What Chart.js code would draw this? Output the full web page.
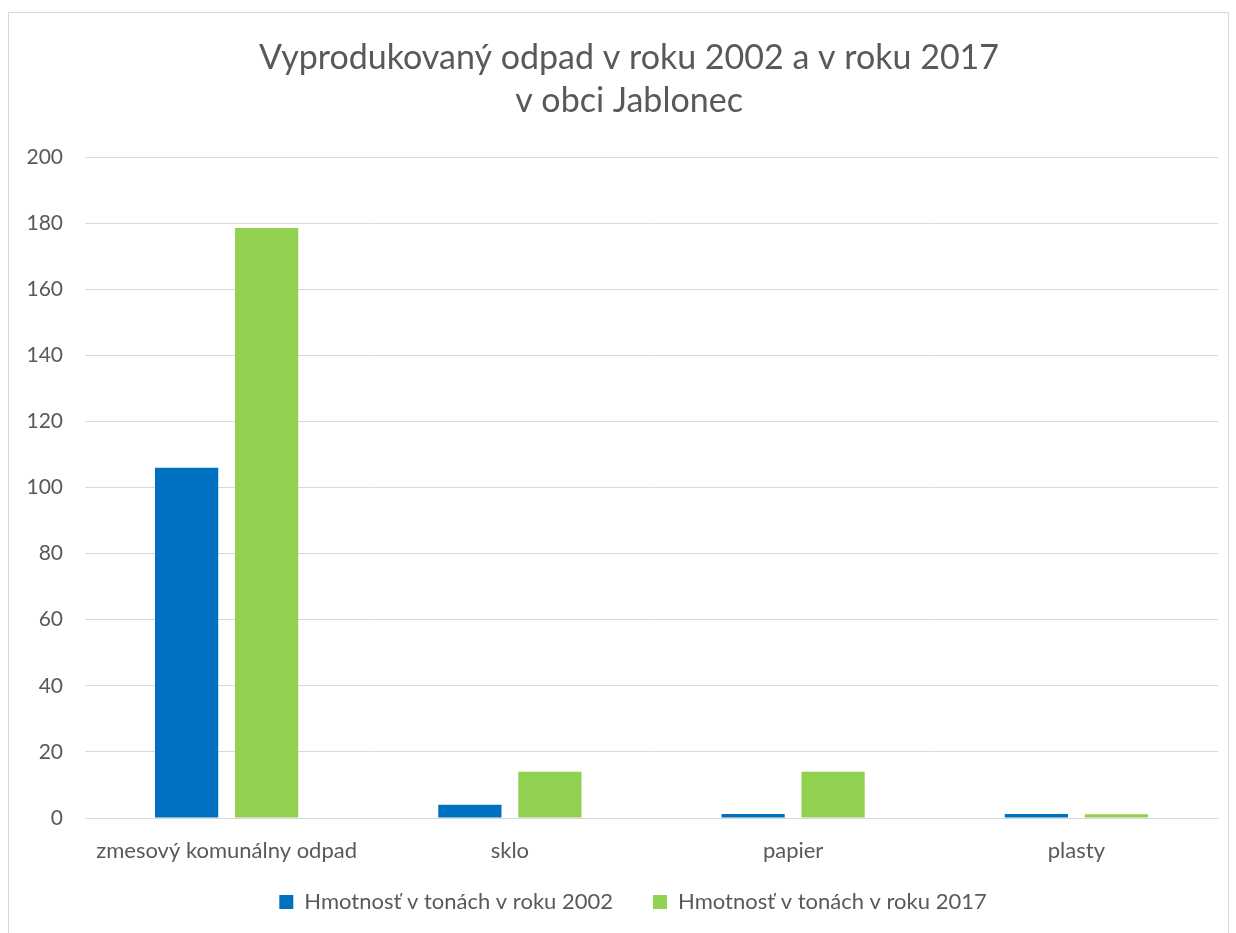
<!DOCTYPE html>
<html>
<head>
<meta charset="utf-8">
<script src="https://cdn.jsdelivr.net/npm/chart.js@4"></script>
<style>
  body { margin: 0; background: #fff; }
</style>
</head>
<body>
<canvas id="odpadChart" width="1236" height="933"></canvas>
<script>
// kategorie odpadu
var kategorie = ["zmesový komunálny odpad", "sklo", "papier", "plasty"];
// hodnoty v tonach
var rok2002 = [106, 4, 1.2, 1.2];
var rok2017 = [178.5, 14, 14, 1.1];
var nazvySerii = ["Hmotnosť v tonách v roku 2002", "Hmotnosť v tonách v roku 2017"];
var nadpis = ["Vyprodukovaný odpad v roku 2002 a v roku 2017", "v obci Jablonec"];

var sediva = "#595959";
var font = "Lato";

// ramik okolo grafu
var ramik = {
  id: "ramik",
  beforeDraw: function (chart) {
    var c = chart.ctx;
    c.save();
    c.strokeStyle = "#d9d9d9";
    c.lineWidth = 1;
    c.strokeRect(8.5, 12.5, 1220, 940);
    c.restore();
  },
};

// legenda - vacsi rozostup medzi polozkami, ale nizsia vyska
var legendaFit = {
  id: "legendaFit",
  beforeInit: function (chart) {
    var fit = chart.legend.fit;
    chart.legend.fit = function () {
      fit.call(this);
      this.height = 40;
    };
  },
  afterLayout: function (chart) {
    // posun legendy hore a doprava, nadpis trochu doprava
    chart.legend.top -= 30;
    chart.legend.left += 28;
    chart.titleBlock.left += 20;
  },
};

var ctx = document.getElementById("odpadChart").getContext("2d");
var odpadChart = new Chart(ctx, {
  type: "bar",
  data: {
    labels: kategorie,
    datasets: [
      {
        label: nazvySerii[0],
        data: rok2002,
        backgroundColor: "#0070C0",
        borderWidth: 0,
      },
      {
        label: nazvySerii[1],
        data: rok2017,
        backgroundColor: "#92D050",
        borderWidth: 0,
      },
    ],
  },
  options: {
    responsive: false,
    animation: false,
    categoryPercentage: 0.565,
    barPercentage: 0.79,
    layout: {
      padding: { left: 20, right: 18, top: 0, bottom: 12 },
    },
    plugins: {
      title: {
        display: true,
        text: nadpis,
        color: sediva,
        font: { family: font, size: 34, weight: "normal", lineHeight: 1.265 },
        padding: { top: 36.5, bottom: 34.5 },
      },
      legend: {
        position: "bottom",
        labels: {
          color: sediva,
          font: { family: font, size: 22 },
          boxWidth: 14,
          boxHeight: 14,
          padding: 40,
        },
      },
      tooltip: { enabled: false },
    },
    scales: {
      x: {
        grid: { display: false, drawTicks: false },
        border: { color: "#d9d9d9" },
        ticks: {
          color: sediva,
          font: { family: font, size: 22 },
          padding: 20,
        },
        afterFit: function (scale) {
          scale.height = 63;
        },
      },
      y: {
        min: 0,
        max: 200,
        grid: { color: "#d9d9d9", drawTicks: false },
        border: { display: false },
        ticks: {
          stepSize: 20,
          color: sediva,
          font: { family: font, size: 21 },
          padding: 22,
        },
        afterFit: function (scale) {
          scale.width = 65;
        },
      },
    },
  },
  plugins: [ramik, legendaFit],
});
</script>
</body>
</html>
